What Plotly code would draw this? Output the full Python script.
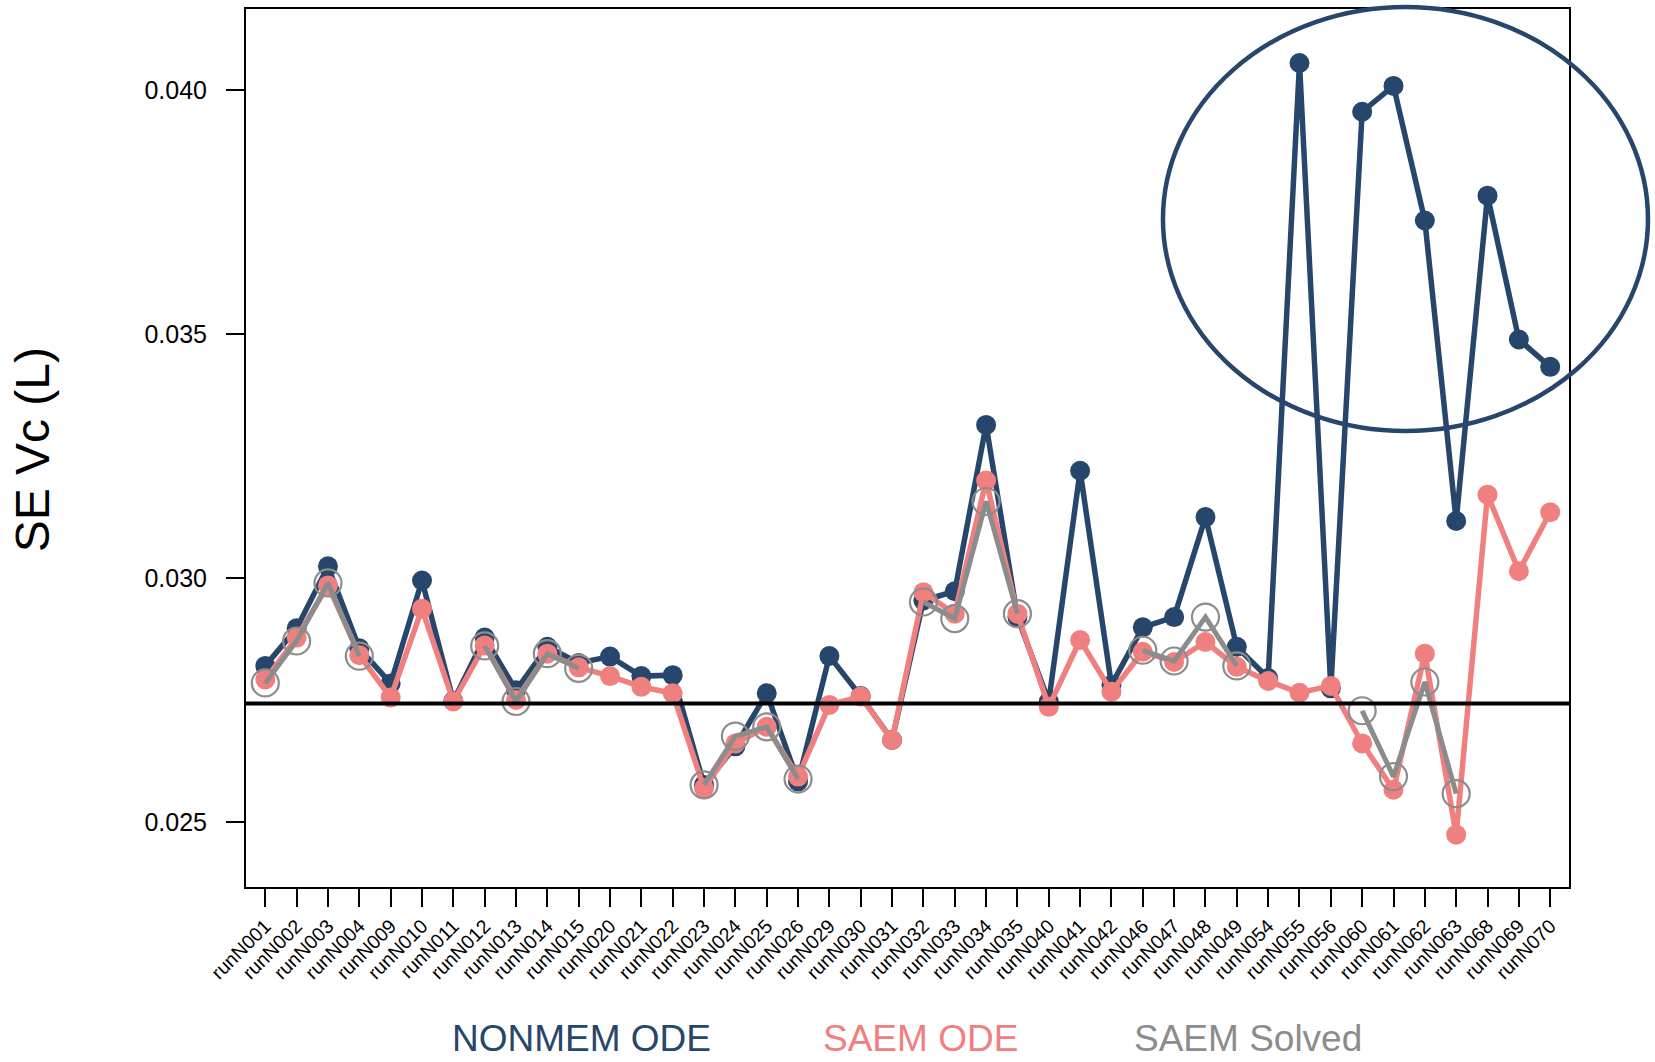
import plotly.graph_objects as go

# Run identifiers along the x axis
runs = [
    "runN001", "runN002", "runN003", "runN004", "runN009", "runN010", "runN011",
    "runN012", "runN013", "runN014", "runN015", "runN020", "runN021", "runN022",
    "runN023", "runN024", "runN025", "runN026", "runN029", "runN030", "runN031",
    "runN032", "runN033", "runN034", "runN035", "runN040", "runN041", "runN042",
    "runN046", "runN047", "runN048", "runN049", "runN054", "runN055", "runN056",
    "runN060", "runN061", "runN062", "runN063", "runN068", "runN069", "runN070",
]

# Standard error of Vc (L) per run and estimation method
nonmem_ode = [
    0.02820, 0.02897, 0.03024, 0.02856, 0.02784, 0.02995, 0.02748,
    0.02878, 0.02770, 0.02859, 0.02826, 0.02839, 0.02799, 0.02801,
    0.02576, 0.02655, 0.02764, 0.02583, 0.02840, 0.02758, 0.02668,
    0.02954, 0.02973, 0.03314, 0.02920, 0.02747, 0.03220, 0.02781,
    0.02899, 0.02920, 0.03125, 0.02859, 0.02795, 0.04056, 0.02774,
    0.03956, 0.04009, 0.03733, 0.03117, 0.03784, 0.03489, 0.03433,
]
saem_ode = [
    0.02792, 0.02878, 0.02985, 0.02842, 0.02755, 0.02937, 0.02747,
    0.02862, 0.02750, 0.02845, 0.02817, 0.02799, 0.02777, 0.02764,
    0.02569, 0.02661, 0.02695, 0.02593, 0.02740, 0.02757, 0.02668,
    0.02971, 0.02927, 0.03200, 0.02927, 0.02736, 0.02873, 0.02767,
    0.02849, 0.02828, 0.02869, 0.02818, 0.02789, 0.02765, 0.02779,
    0.02661, 0.02566, 0.02845, 0.02474, 0.03171, 0.03014, 0.03135,
]
saem_solved = [
    0.02785, 0.02871, 0.02990, 0.02840, None, None, None,
    0.02861, 0.02747, 0.02845, 0.02815, None, None, None,
    0.02576, 0.02676, 0.02695, 0.02588, None, None, None,
    0.02951, 0.02917, 0.03157, 0.02927, None, None, None,
    0.02852, 0.02830, 0.02920, 0.02820, None, None, None,
    0.02728, 0.02593, 0.02787, 0.02558, None, None, None,
]

# True value reference line
reference_se = 0.02743

y_ticks = [0.025, 0.030, 0.035, 0.040]
y_tick_labels = ["0.025", "0.030", "0.035", "0.040"]

NAVY = "#27466B"
PINK = "#F08080"
GREY = "#8C8C8C"
FONT = "Liberation Sans, Arial, sans-serif"

fig = go.Figure()

fig.add_trace(go.Scatter(
    x=runs, y=nonmem_ode, mode="lines+markers", name="NONMEM ODE",
    line=dict(color=NAVY, width=5.5),
    marker=dict(color=NAVY, size=20),
))
fig.add_trace(go.Scatter(
    x=runs, y=saem_ode, mode="lines+markers", name="SAEM ODE",
    line=dict(color=PINK, width=5.5),
    marker=dict(color=PINK, size=20),
))
fig.add_trace(go.Scatter(
    x=runs, y=saem_solved, mode="lines+markers", name="SAEM Solved",
    connectgaps=False,
    line=dict(color=GREY, width=5),
    marker=dict(symbol="circle-open", color=GREY, size=27,
                line=dict(color=GREY, width=2.2)),
))

# Horizontal reference at the true value
fig.add_shape(type="line", xref="paper", x0=0, x1=1, yref="y",
              y0=reference_se, y1=reference_se,
              line=dict(color="black", width=4), layer="above")

# Highlight of the unstable NONMEM runs
fig.add_shape(type="circle", xref="paper", yref="paper",
              x0=0.6931, x1=1.0597, y0=0.5193, y1=1.0023,
              line=dict(color=NAVY, width=4.5), layer="above")

fig.update_layout(
    width=1655, height=1062,
    margin=dict(l=246, r=86, t=7, b=175),
    paper_bgcolor="white", plot_bgcolor="white",
    showlegend=False,
    font=dict(family=FONT, color="black"),
    xaxis=dict(
        type="category", categoryorder="array", categoryarray=runs,
        range=[-0.616, 41.6],
        showgrid=False, zeroline=False,
        showline=True, linecolor="black", linewidth=2, mirror=True,
        ticks="outside", ticklen=18, tickwidth=2, tickcolor="black",
        tickangle=-45, tickfont=dict(family=FONT, size=19.5, color="black"),
    ),
    yaxis=dict(
        range=[0.023667, 0.041666],
        tickmode="array", tickvals=y_ticks, ticktext=y_tick_labels,
        showgrid=False, zeroline=False,
        showline=True, linecolor="black", linewidth=2, mirror=True,
        ticks="outside", ticklen=18, tickwidth=2, tickcolor="black",
        ticklabelstandoff=14,
        tickfont=dict(family=FONT, size=25, color="black"),
    ),
)

# Y axis title
fig.add_annotation(text="SE Vc (L)", xref="paper", yref="paper",
                   x=-0.1615, y=0.4977, xanchor="center", yanchor="middle",
                   textangle=-90, showarrow=False,
                   font=dict(family=FONT, size=48, color="black"))

# Legend as coloured labels below the axis
legend_items = [("NONMEM ODE", NAVY, 0.2536), ("SAEM ODE", PINK, 0.5102),
                ("SAEM Solved", GREY, 0.7574)]
for label, colour, xpos in legend_items:
    fig.add_annotation(text=label, xref="paper", yref="paper",
                       x=xpos, y=-0.1985, xanchor="center", yanchor="bottom",
                       showarrow=False,
                       font=dict(family=FONT, size=37, color=colour))

fig.write_html("out.html")
